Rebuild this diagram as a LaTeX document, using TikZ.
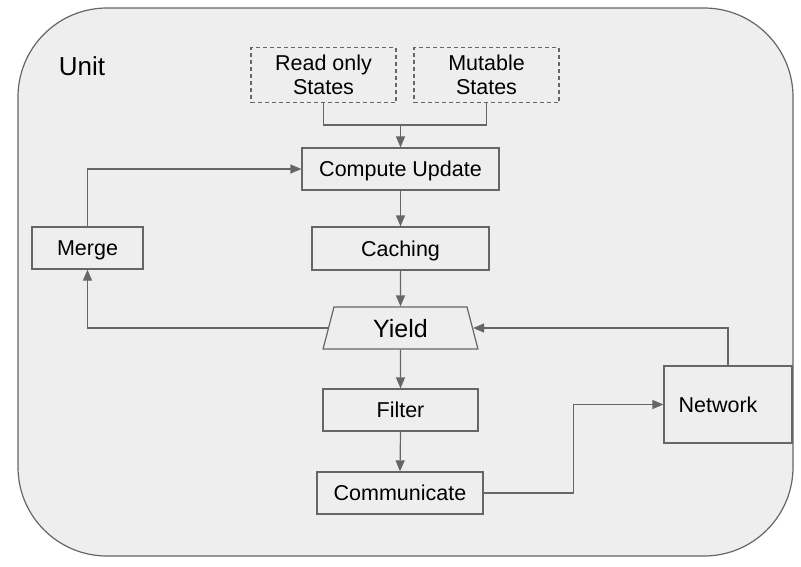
\documentclass[tikz,border=0pt]{standalone}
\usepackage{fontspec}
\setmainfont{Liberation Sans}
\usetikzlibrary{arrows.meta,shapes.geometric,calc}
\definecolor{bgfill}{HTML}{EEEEEE}
\definecolor{linec}{HTML}{666666}
\begin{document}
\begin{tikzpicture}[x=1pt,y=-1pt,
  every node/.style={font=\fontsize{21.5}{24}\selectfont, inner sep=0pt},
  box/.style={draw=linec, line width=1.2pt, fill=bgfill, align=center},
  sbox/.style={box, text height=15.5pt, text depth=0pt},
  dbox/.style={box, dashed, dash pattern=on 4pt off 3pt},
  conn/.style={draw=linec, line width=1.2pt},
  arr/.style={conn, -{Triangle[length=11pt,width=9pt]}}]
\useasboundingbox (0,0) rectangle (801,566);
\draw[draw=linec, line width=1.2pt, fill=bgfill, rounded corners=89pt] (18,8) rectangle (793,556);
\node[font=\fontsize{26}{28}\selectfont] (unit) at (82,66) {Unit};
\node[dbox, minimum width=145pt, minimum height=55pt] (ro) at (323.5,75) {Read only\\States};
\node[dbox, minimum width=145pt, minimum height=55pt] (mu) at (486.5,75) {Mutable\\States};
\node[sbox, minimum width=197pt, minimum height=42pt] (cu) at (400.5,169) {Compute Update};
\node[sbox, minimum width=177pt, minimum height=43pt] (ca) at (400.5,248.5) {Caching};
\node[sbox, minimum width=111pt, minimum height=42pt] (me) at (87.5,248) {Merge};
\node[box, trapezium, trapezium angle=76, trapezium stretches=true, minimum width=155pt, minimum height=42pt, text height=18pt, text depth=0pt, font=\fontsize{25}{28}\selectfont] (yi) at (400.5,328) {Yield};
\node[sbox, minimum width=155pt, minimum height=42pt] (fi) at (400.5,410) {Filter};
\node[sbox, minimum width=166pt, minimum height=42pt] (co) at (400,493) {Communicate};
\node[box, minimum width=128pt, minimum height=77pt, label={[xshift=-10pt]center:Network}] (ne) at (728,404.5) {};
\coordinate (j) at (400.5,125);
\draw[conn] (ro.south) |- (j) -| (mu.south);
\draw[arr] (j) -- (cu.north);
\draw[arr] (cu.south) -- (ca.north);
\draw[arr] (ca.south) -- (yi.north);
\draw[arr] (yi.south) -- (fi.north);
\draw[arr] (fi.south) -- (co.north);
\draw[arr] (me.north) |- (cu.west);
\draw[arr] (yi.west) -| (me.south);
\draw[arr] (ne.north) |- (yi.east);
\draw[arr] (co.east) -| ($(co.east)!0.5!(ne.west)$) |- (ne.west);
\end{tikzpicture}
\end{document}
